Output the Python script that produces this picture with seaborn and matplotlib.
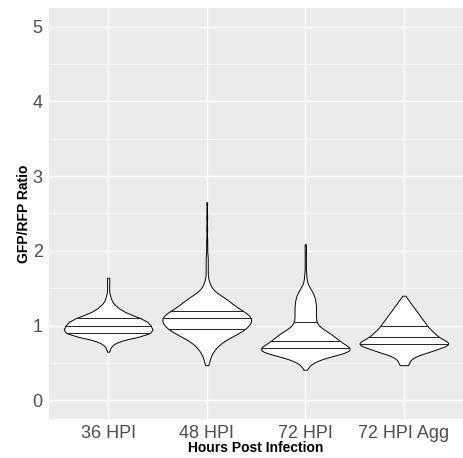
import seaborn as sns
import numpy as np
import pandas as pd
import matplotlib
matplotlib.use("Agg")
import matplotlib.pyplot as plt
from matplotlib.ticker import MultipleLocator

# groups on the x axis
groups = ['36 HPI', '48 HPI', '72 HPI', '72 HPI Agg']

# GFP/RFP ratio values (binned) and how many cells fall in each bin
ratio_36 = [0.65, 0.70, 0.75, 0.80, 0.85, 0.90, 0.95, 1.00, 1.05, 1.10, 1.15, 1.20, 1.25,
            1.30, 1.35, 1.40, 1.45, 1.50, 1.55, 1.60, 1.64]
count_36 = [1, 2, 5, 13, 30, 42, 44, 42, 39, 32, 22, 14, 9, 5, 3, 2, 1, 1, 1, 1, 1]

ratio_48 = [0.47, 0.50, 0.55, 0.60, 0.65, 0.70, 0.75, 0.80, 0.85, 0.90, 0.95, 1.00, 1.05,
            1.10, 1.15, 1.20, 1.25, 1.30, 1.35, 1.40, 1.45, 1.50, 1.55, 1.60, 1.65, 1.70,
            1.75, 1.80, 1.85, 1.90, 1.95, 2.05, 2.15, 2.30, 2.45, 2.65]
count_48 = [1, 2, 3, 4, 6, 9, 12, 17, 24, 31, 37, 41, 43, 44, 40, 35, 28, 24, 20, 14, 8,
            5, 3, 2, 1, 1, 1, 1, 1, 1, 1, 1, 1, 1, 1, 1]

ratio_72 = [0.41, 0.45, 0.50, 0.55, 0.60, 0.65, 0.70, 0.75, 0.80, 0.85, 0.90, 0.95, 1.00,
            1.05, 1.10, 1.15, 1.20, 1.25, 1.30, 1.35, 1.40, 1.45, 1.50, 1.55, 1.60, 1.65,
            1.70, 1.80, 1.90, 2.00, 2.09]
count_72 = [1, 2, 5, 12, 22, 44, 40, 32, 28, 25, 21, 15, 10, 9, 9, 9, 9, 9, 9, 8, 8, 6,
            4, 2, 1, 1, 1, 1, 1, 1, 1]

ratio_agg = [0.47, 0.50, 0.55, 0.60, 0.65, 0.70, 0.75, 0.80, 0.85, 0.90, 0.95, 1.00, 1.05,
             1.10, 1.15, 1.20, 1.25, 1.30, 1.35, 1.40]
count_agg = [3, 4, 6, 12, 24, 33, 44, 38, 31, 28, 24, 21, 19, 16, 14, 11, 9, 6, 4, 1]

frames = []
for g, r, c in zip(groups, [ratio_36, ratio_48, ratio_72, ratio_agg],
                   [count_36, count_48, count_72, count_agg]):
    frames.append(pd.DataFrame({'group': g, 'ratio': np.repeat(r, c)}))
df = pd.concat(frames, ignore_index=True)

sns.set_theme(style='darkgrid', rc={
    'axes.facecolor': '#EBEBEB',
    'grid.color': 'white',
    'grid.linewidth': 1.0,
})
plt.rcParams['font.family'] = ['Liberation Sans', 'DejaVu Sans']

fig = plt.figure(figsize=(4.64, 4.58), dpi=100)
ax = fig.add_axes([49 / 464, 1 - 419 / 458, 414 / 464, 411 / 458])

sns.violinplot(data=df, x='group', y='ratio', order=groups, color='white',
               linecolor='black', linewidth=0.7, inner='quart', cut=0,
               density_norm='width', width=0.9, bw_method=0.18, saturation=1, ax=ax)
for ln in ax.lines:
    ln.set_linestyle('-')
    ln.set_color('#222222')
    ln.set_linewidth(0.7)

ax.set_xlim(-0.6, 3.6)
ax.set_ylim(-0.25, 5.25)
ax.yaxis.set_major_locator(MultipleLocator(1))
ax.yaxis.set_minor_locator(MultipleLocator(0.5))
ax.grid(which='major', color='white', linewidth=1.0)
ax.grid(which='minor', axis='y', color='white', linewidth=0.5)
ax.set_axisbelow(True)
for s in ax.spines.values():
    s.set_visible(False)

ax.tick_params(which='major', length=3, width=0.8, color='#333333', labelsize=13,
               labelcolor='#4D4D4D', pad=1.5)
ax.tick_params(which='minor', length=0)

ax.set_xlabel('Hours Post Infection', fontsize=10, fontweight='bold', color='black', labelpad=-1)
ax.set_ylabel('GFP/RFP Ratio', fontsize=10, fontweight='bold', color='black', labelpad=1)

fig.savefig('out.png', dpi=100, facecolor='white')
